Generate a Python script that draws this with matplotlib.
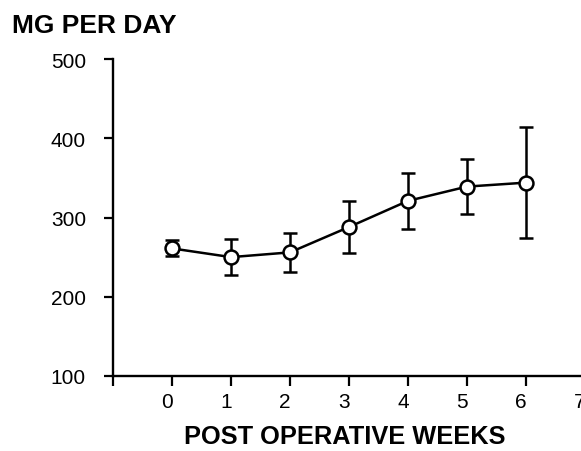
import matplotlib
matplotlib.use("Agg")
import matplotlib.pyplot as plt
import matplotlib.transforms as mtransforms

plt.rcParams['font.family'] = ['Liberation Sans', 'DejaVu Sans']

# mean mg per day with error bars
weeks = [0, 1, 2, 3, 4, 5, 6]
mg_per_day = [261, 250, 256, 288, 321, 339, 344]
err = [10, 23, 25, 33, 35, 35, 70]

xticks = [-1, 0, 1, 2, 3, 4, 5, 6, 7]
xtick_labels = ['', '0', '1', '2', '3', '4', '5', '6', '7']
yticks = [100, 200, 300, 400, 500]

fig = plt.figure(figsize=(5.81, 4.52), dpi=100)
W, H = 581, 452
# axes runs a bit past the right edge, like the cropped original
ax = fig.add_axes([113 / W, (H - 377) / H, (600 - 113) / W, (377 - 60) / H])

ax.errorbar(weeks, mg_per_day, yerr=err, color='black', lw=1.8,
            elinewidth=1.8, capsize=5, capthick=1.8,
            marker='o', markersize=10, markerfacecolor='white',
            markeredgecolor='black', markeredgewidth=1.8, zorder=3)

ax.set_xlim(-1, -1 + 487 / 59.0)
ax.set_ylim(100, 500)
ax.set_xticks(xticks)
ax.set_xticklabels(xtick_labels)
ax.set_yticks(yticks)

ax.spines['top'].set_visible(False)
ax.spines['right'].set_visible(False)
ax.spines['left'].set_linewidth(1.7)
ax.spines['bottom'].set_linewidth(1.7)
ax.tick_params(axis='x', direction='out', length=7, width=1.6, labelsize=15, pad=4.5)
ax.tick_params(axis='y', direction='out', length=6.5, width=1.6, labelsize=15, pad=13)

# in the original the week numbers sit a little left of their ticks
shift = mtransforms.ScaledTranslation(-5 / 100, 0, fig.dpi_scale_trans)
for lab in ax.get_xticklabels():
    lab.set_transform(lab.get_transform() + shift)

fig.text(12 / W, 1 - 26 / H, 'MG PER DAY', fontsize=19, fontweight='bold',
         ha='left', va='center')
fig.text(345 / W, 1 - 437 / H, 'POST OPERATIVE WEEKS', fontsize=18.3,
         fontweight='bold', ha='center', va='center')

fig.savefig('out.png', dpi=100)
